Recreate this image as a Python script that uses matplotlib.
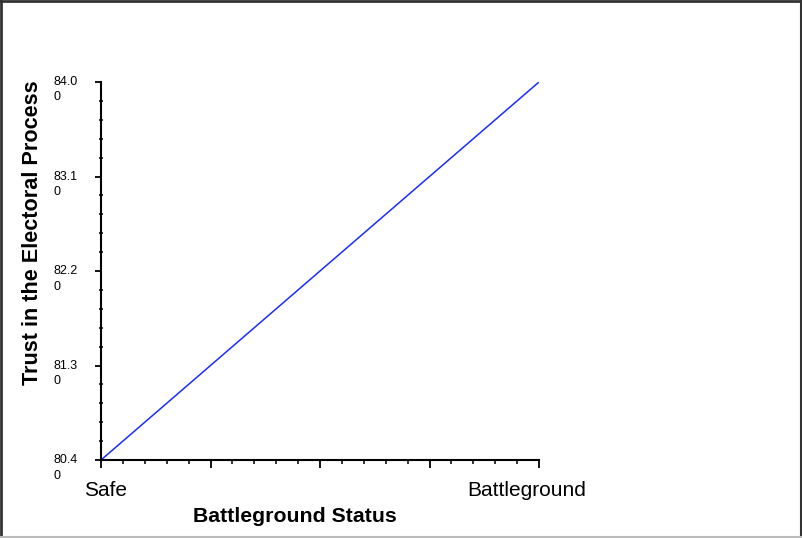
import matplotlib
matplotlib.use("Agg")
import matplotlib.pyplot as plt
import matplotlib.transforms as mtransforms
from matplotlib.lines import Line2D
from matplotlib.ticker import MultipleLocator, AutoMinorLocator

plt.rcParams['font.family'] = ['Liberation Sans', 'DejaVu Sans']

# Data
categories = ["Safe", "Battleground"]
x_values = [0.0, 1.0]
trust_values = [80.40, 84.00]
y_ticks = [80.40, 81.30, 82.20, 83.10, 84.00]

fig = plt.figure(figsize=(8.02, 5.38), dpi=100)
ax = fig.add_axes([101/802, 78/538, 438/802, 378/538])

ax.plot(x_values, trust_values, color="#1a2cff", linewidth=1.1)

ax.set_xlim(0, 1)
ax.set_ylim(y_ticks[0], y_ticks[-1])

for s in ["top", "right"]:
    ax.spines[s].set_visible(False)
for s in ["left", "bottom"]:
    ax.spines[s].set_linewidth(1.5)
    ax.spines[s].set_color("black")

ax.xaxis.set_major_locator(MultipleLocator(0.25))
ax.xaxis.set_minor_locator(AutoMinorLocator(5))
ax.set_yticks(y_ticks)
ax.yaxis.set_minor_locator(AutoMinorLocator(5))
ax.tick_params(axis="x", which="major", direction="out", length=6, width=1.3, labelbottom=False)
ax.tick_params(axis="x", which="minor", direction="out", length=3, width=1.1)
ax.tick_params(axis="y", which="major", direction="out", length=4.3, width=1.3, labelleft=False)
ax.tick_params(axis="y", which="minor", direction="inout", length=3.5, width=1.1)

# y tick labels (wrapped like the original)
ytrans = mtransforms.blended_transform_factory(fig.transFigure, ax.transData)
for v in y_ticks:
    s = f"{v:.2f}"
    ax.text(54/802, v, s[:-1], transform=ytrans, ha="left", va="center", fontsize=9)
    ax.text(54/802, v, s[-1], ha="left", va="center", fontsize=9,
            transform=mtransforms.offset_copy(ytrans, fig=fig, x=0, y=-15.5, units="dots"))

# x tick labels
xtrans = mtransforms.blended_transform_factory(ax.transData, fig.transFigure)
offsets = [4.7, -12]
for xv, lab, dx in zip(x_values, categories, offsets):
    ax.text(xv, (538 - 491)/538, lab, ha="center", va="center", fontsize=15,
            transform=mtransforms.offset_copy(xtrans, fig=fig, x=dx, y=0, units="dots"))

fig.text(33/802, (538 - 233)/538, "Trust in the Electoral Process", rotation=90,
         ha="center", va="center", fontsize=15.6, fontweight="bold")
fig.text(295/802, (538 - 517)/538, "Battleground Status",
         ha="center", va="center", fontsize=15.3, fontweight="bold")

# Figure frame
def fl(x0, y0, x1, y1, c, lw):
    fig.add_artist(Line2D([x0/802, x1/802], [1 - y0/538, 1 - y1/538],
                          transform=fig.transFigure, color=c, linewidth=lw))
fl(0, 1, 802, 1, "#333333", 2)
fl(1, 0, 1, 538, "#333333", 2)
fl(801, 0, 801, 538, "#333333", 1.5)
fl(0, 536.5, 802, 536.5, "#bbbbbb", 1.5)

fig.savefig("out.png", dpi=100)
